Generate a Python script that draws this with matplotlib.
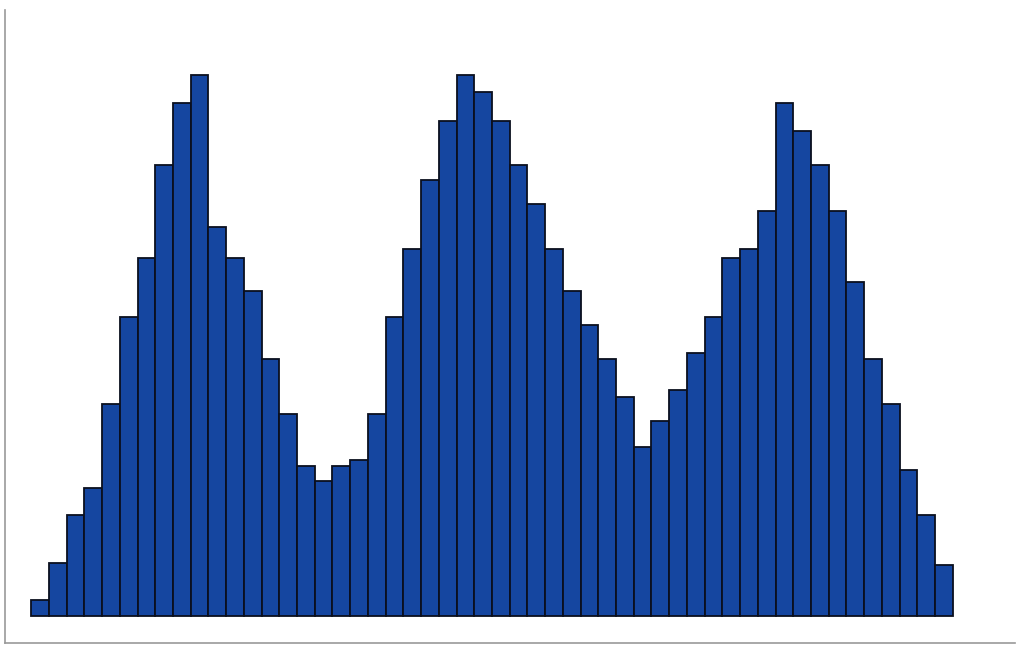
import matplotlib
matplotlib.use("Agg")
import matplotlib.pyplot as plt
import numpy as np

# bar heights (arbitrary units)
heights = [16, 53, 101, 128, 212, 299, 358, 451, 513, 541,
           389, 358, 325, 257, 202, 150, 135, 150, 156, 202,
           299, 367, 436, 495, 541, 524, 495, 451, 412, 367,
           325, 291, 257, 219, 169, 195, 226, 263, 299, 358,
           367, 405, 513, 485, 451, 405, 334, 257, 212, 146,
           101, 51]
edges = np.arange(len(heights))

fig = plt.figure(figsize=(10.24, 6.56), dpi=100)
ax = fig.add_axes([0.005, 0.02, 0.986, 0.965])

ax.bar(edges, heights, width=1, align='edge', color='#1546a0',
       edgecolor='#0a0f1e', linewidth=1.3)

ax.set_xlim(-1.47, 55.5)
ax.set_ylim(-27, 606)
ax.set_xticks([])
ax.set_yticks([])
for s in ['top', 'right']:
    ax.spines[s].set_visible(False)
for s in ['left', 'bottom']:
    ax.spines[s].set_color('#999999')
    ax.spines[s].set_linewidth(1.2)

fig.savefig('out.png', dpi=100)
